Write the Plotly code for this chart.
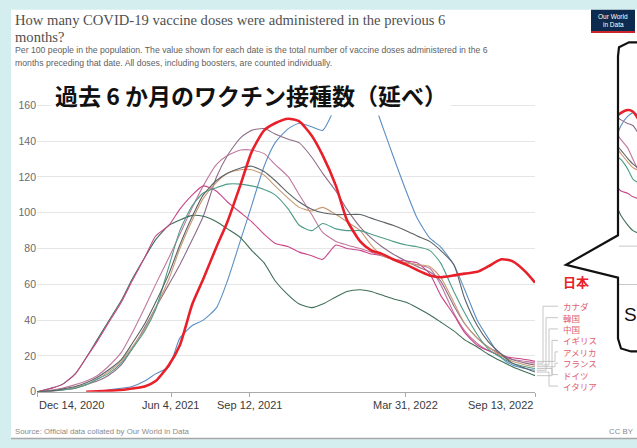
import plotly.graph_objects as go

# ---------------- data ----------------
dates = ["2020-12-14","2021-01-01","2021-01-15","2021-02-01","2021-02-15","2021-03-01","2021-03-15",
         "2021-04-01","2021-04-15","2021-05-01","2021-05-15","2021-06-01","2021-06-15","2021-07-01",
         "2021-07-15","2021-08-01","2021-08-15","2021-09-01","2021-09-15","2021-10-01","2021-10-15",
         "2021-11-01","2021-11-15","2021-12-01","2021-12-15","2022-01-01","2022-01-15","2022-02-01",
         "2022-02-15","2022-03-01","2022-03-15","2022-04-01","2022-04-15","2022-05-01","2022-05-15",
         "2022-06-01","2022-06-15","2022-07-01","2022-07-15","2022-08-01","2022-08-15","2022-09-01",
         "2022-09-13"]

japan   = [None,None,None,None,0,0.3,0.6,1,1.8,3,6,15,26,49,63,81,95,116,134,146,150,152.5,151,143,132,
           115,96,84,79,77,74,71,68,65,64,65,66,67,70,74,73,67,61]
korea   = [None,None,None,None,None,0.3,1,2,3,6,10,14,30,37,40,47,62,85,104,126,139,147,150,148,146,
           160,172,176,166,149,132,112,97,86,81,71,57,40,30,19,15,13,12]
uk      = [0,2,4,10,19,29,39,51,63,75,85,93,96,98.5,98,95,91,86,79,72,62,54,49,47,49,53,56,57,56,54,
           52,50,47,43,39,34,29,25,21,17,14,11,9]
usa     = [0,2,4,10,19,28,38,50,62,75,87,93,102,110,115,112,106,100,95,88,83,81,78,76,74,82,80,79,77,
           76,74,73,72,66,54,43,33,26,23,20,19,18,17]
china   = [0,0.5,1,2,4,6,9,15,24,36,47,60,71,85,98,120,132,142,146,147,144,141,139,131,122,112,102,
           92,86,81,77,73,70,67,62,48,38,30,25,21,18,16,15]
canada  = [0,1,2,4,6,9,14,22,33,47,60,75,88,103,115,127,132,135,135,133,127,120,110,99,89,84,82,80,
           78,76,74,72,71,69,60,44,34,27,23,20,18,17,16]
italy   = [0,0.5,1.5,3,5,8,12,18,27,38,50,66,82,98,110,118,122,125,126,123,118,111,106,102,100,99,99,
           99,97,95,93,90,87,84,79,71,52,37,28,21,16,13,11]
france  = [0,0.3,1,2.5,4,7,11,17,25,35,47,63,80,96,108,117,122,124,124,121,115,108,103,101,103,99,
           95,90,82,76,74,72,71,70,64,50,38,30,25,20,17,15,14]
germany = [0,0.3,1,2,4,7,10,16,24,34,46,70,90,104,111,114,116,116,115,113,110,102,93,90,94,91,90,90,
           88,86,84,82,81,79,72,56,44,32,24,19,16,14,13]

others = ["カナダ", "韓国", "中国", "イギリス", "アメリカ", "フランス", "ドイツ", "イタリア"]
other_values = [canada, korea, china, uk, usa, france, germany, italy]
label_pos = [47.8, 41.4, 35.1, 28.7, 22.3, 16.0, 9.6, 3.2]      # label heights (data units)

x_ticks = ["2020-12-14", "2021-06-04", "2021-09-12", "2022-03-31", "2022-09-13"]
x_tick_text = ["Dec 14, 2020", "Jun 4, 2021", "Sep 12, 2021", "Mar 31, 2022", "Sep 13, 2022"]
y_ticks = [0, 20, 40, 60, 80, 100, 120, 140, 160]

# ---------------- styles ----------------
colors = {"カナダ": "#c0789e", "韓国": "#5b8fc4", "中国": "#8e6c88", "イギリス": "#3f6e57",
          "アメリカ": "#c9468a", "フランス": "#c99a72", "ドイツ": "#4f9c88", "イタリア": "#5c6266"}
JP_RED = "#e8202a"
W, H = 637, 448
def px(x): return x / W
def py(y): return 1 - y / H

SANS = "Liberation Sans, Arial, sans-serif"
CJK = "Noto Sans CJK JP"

fig = go.Figure()
for name, vals in zip(others, other_values):
    for ax in (("x", "y"), ("x2", "y2")):
        fig.add_trace(go.Scatter(x=dates, y=vals, mode="lines", name=name, xaxis=ax[0], yaxis=ax[1],
                                 line=dict(color=colors[name], width=1.1, shape="spline", smoothing=0.6),
                                 hoverinfo="skip", showlegend=False))
for ax in (("x", "y"), ("x2", "y2")):
    fig.add_trace(go.Scatter(x=dates, y=japan, mode="lines", name="日本", xaxis=ax[0], yaxis=ax[1],
                             line=dict(color=JP_RED, width=2.6, shape="spline", smoothing=0.6),
                             hoverinfo="skip", showlegend=False))

shapes = []
# white card on cyan page
shapes.append(dict(type="rect", xref="paper", yref="paper", x0=px(11), x1=1, y0=py(444), y1=py(9),
                   fillcolor="white", line=dict(width=0), layer="below"))
shapes.append(dict(type="line", xref="paper", yref="paper", x0=px(11), x1=1, y0=py(444.5), y1=py(444.5),
                   line=dict(color="#a8a8a8", width=1.5)))
# connectors from line ends to labels
end_x = px(537)
elbows = [543, 546, 549, 552, 555, 555, 552, 549]
for vals, lp, ex in zip(other_values, label_pos, elbows):
    end_v = vals[-1]
    path = f"M {end_x},{end_v} L {px(ex)},{end_v} L {px(ex)},{lp} L {px(558)},{lp}"
    shapes.append(dict(type="path", xref="paper", yref="y", path=path,
                       line=dict(color="#b8b8b8", width=0.8)))
# inset gray lines
for yy in (249, 288):
    shapes.append(dict(type="line", xref="paper", yref="paper", x0=px(619), x1=1, y0=py(yy), y1=py(yy),
                       line=dict(color="#c8c8c8", width=1)))
# callout outline
pts = [(W + 2, 42), (629, 42), (619, 47), (618, 56), (618, 238), (566, 268), (618, 281),
       (618, 343), (621, 353), (631, 356), (W + 2, 356)]
callout = "M " + " L ".join(f"{px(a)},{py(b)}" for a, b in pts)
shapes.append(dict(type="path", xref="paper", yref="paper", path=callout,
                   line=dict(color="#111111", width=2.2)))
# OWID logo
shapes.append(dict(type="rect", xref="paper", yref="paper", x0=px(591), x1=px(635), y0=py(31), y1=py(9),
                   fillcolor="#0c2b4e", line=dict(width=0)))
shapes.append(dict(type="rect", xref="paper", yref="paper", x0=px(591), x1=px(635), y0=py(32.5), y1=py(30.5),
                   fillcolor="#c8252c", line=dict(width=0)))

ann = []
ann.append(dict(xref="paper", yref="paper", x=px(13), y=py(19), xanchor="left", yanchor="middle",
                text="How many COVID-19 vaccine doses were administered in the previous 6",
                showarrow=False, font=dict(family="Liberation Serif, serif", size=14.6, color="#505050")))
ann.append(dict(xref="paper", yref="paper", x=px(13), y=py(37), xanchor="left", yanchor="middle",
                text="months?", showarrow=False,
                font=dict(family="Liberation Serif, serif", size=14.6, color="#505050")))
ann.append(dict(xref="paper", yref="paper", x=px(13), y=py(50), xanchor="left", yanchor="middle",
                text="Per 100 people in the population. The value shown for each date is the total number of vaccine doses administered in the 6",
                showarrow=False, font=dict(family=SANS, size=8.7, color="#5f5f5f")))
ann.append(dict(xref="paper", yref="paper", x=px(13), y=py(62.5), xanchor="left", yanchor="middle",
                text="months preceding that date. All doses, including boosters, are counted individually.",
                showarrow=False, font=dict(family=SANS, size=8.7, color="#5f5f5f")))
ann.append(dict(xref="paper", yref="paper", x=px(613), y=py(15.5), xanchor="center", yanchor="middle",
                text="Our World", showarrow=False, font=dict(family=SANS, size=6.5, color="white")))
ann.append(dict(xref="paper", yref="paper", x=px(613), y=py(24), xanchor="center", yanchor="middle",
                text="in Data", showarrow=False, font=dict(family=SANS, size=6.5, color="white")))
# Japanese overlay title with white box
ann.append(dict(xref="paper", yref="paper", x=px(251), y=py(95), xanchor="center", yanchor="middle",
                text="<b>過去 6 か月のワクチン接種数（延べ）</b>", showarrow=False, bgcolor="white",
                borderpad=3, font=dict(family=CJK, size=23, color="#111111")))
# x tick labels
anchors = ["left", "center", "center", "center", "right"]
for d, t, a in zip(x_ticks, x_tick_text, anchors):
    ann.append(dict(xref="x", yref="paper", x=d, y=py(410), xanchor=a, yanchor="middle", text=t,
                    showarrow=False, font=dict(family=SANS, size=11, color="#3a3a3a")))
# series labels
ann.append(dict(xref="paper", yref="y", x=px(561), y=61.5, xanchor="left", yanchor="middle",
                text="<b>日本</b>", showarrow=False, font=dict(family=CJK, size=13, color=JP_RED)))
for name, lp in zip(others, label_pos):
    ann.append(dict(xref="paper", yref="y", x=px(561), y=lp, xanchor="left", yanchor="middle",
                    text=name, showarrow=False, font=dict(family=CJK, size=8.5, color="#e0606e")))
ann.append(dict(xref="paper", yref="paper", x=px(622), y=py(318), xanchor="left", yanchor="middle",
                text="S", showarrow=False, font=dict(family=SANS, size=19, color="#111111")))
ann.append(dict(xref="paper", yref="paper", x=px(13), y=py(437), xanchor="left", yanchor="middle",
                text="Source: Official data collated by Our World in Data", showarrow=False,
                font=dict(family=SANS, size=7.8, color="#8a8a8a")))
ann.append(dict(xref="paper", yref="paper", x=px(636), y=py(437), xanchor="right", yanchor="middle",
                text="CC BY", showarrow=False, font=dict(family=SANS, size=7.8, color="#8a8a8a")))

fig.update_layout(
    width=W, height=H, margin=dict(l=0, r=0, t=0, b=0),
    paper_bgcolor="#d4eef0", plot_bgcolor="white",
    shapes=shapes, annotations=ann,
    xaxis=dict(domain=[px(37), px(535)], type="date", range=["2020-12-14", "2022-09-13"],
               tickvals=x_ticks, showticklabels=False, ticks="outside", ticklen=4, tickcolor="#aaaaaa",
               showgrid=False, showline=True, linecolor="#aaaaaa", linewidth=1, zeroline=False,
               fixedrange=True),
    yaxis=dict(domain=[py(397), py(100.5)], range=[0, 163], tickvals=y_ticks, showgrid=True,
               gridcolor="#e6e6e6", gridwidth=1, zeroline=False, showline=False, ticks="",
               tickfont=dict(family=SANS, size=10.5, color="#6a6a6a"), fixedrange=True),
    xaxis2=dict(domain=[px(619), 1], type="date", range=["2021-10-10", "2021-11-25"],
                visible=False, fixedrange=True),
    yaxis2=dict(domain=[py(238), py(90)], range=[45, 170], visible=False, fixedrange=True),
)

fig.write_html("out.html", config={"displayModeBar": False},
               post_script="document.body.style.margin='0px';document.body.style.overflow='hidden';")
